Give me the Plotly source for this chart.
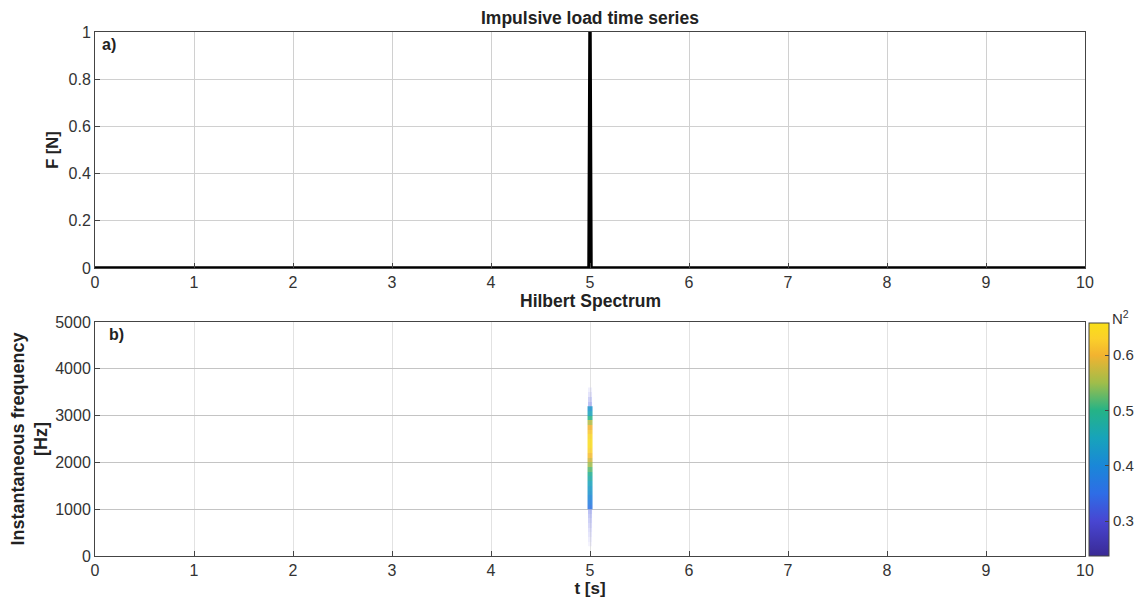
import plotly.graph_objects as go

# ---- data ----
t_load = [0, 4.99, 5.0, 5.01, 10]
F_load = [0, 0, 1, 0, 0]

# Hilbert spectrum column at t = 5 s (frequency bin edges, Hz)
hs_t_edges = [4.975, 5.025]
hs_freq_edges = [1000, 1100, 1200, 1300, 1400, 1500, 1600, 1700, 1800, 1900,
                 2000, 2100, 2200, 2300, 2400, 2500, 2600, 2700, 2800, 2900, 3000,
                 3100, 3200]
hs_energy = [0.36, 0.38, 0.40, 0.42, 0.43, 0.45, 0.47, 0.49, 0.52, 0.55,
             0.58, 0.61, 0.63, 0.65, 0.65, 0.64, 0.62, 0.60, 0.56, 0.50, 0.45,
             0.42]

# faint tails of the spectrum (low energy, drawn translucent)
tail_t_edges = [4.98, 5.02]
tail_freq_edges = [200, 300, 400, 500, 600, 700, 800, 900, 1000]
tail_level = [0.15, 0.25, 0.35, 0.45, 0.55, 0.65, 0.75, 0.85]
tail2_freq_edges = [3200, 3300, 3400, 3500, 3600]
tail2_level = [0.85, 0.65, 0.4, 0.2]

x_ticks = list(range(0, 11))
cb_ticks = [0.3, 0.4, 0.5, 0.6]

cscale = [
    [0.0, "#3a2a95"],
    [0.15, "#4846d2"],
    [0.268, "#2e6de6"],
    [0.387, "#1a87d8"],
    [0.506, "#17a3bb"],
    [0.625, "#25b386"],
    [0.743, "#a0bd4a"],
    [0.862, "#f2b330"],
    [0.933, "#fbd02a"],
    [1.0, "#f9df18"],
]
tail_scale = [[0, "rgba(190,185,245,0.05)"], [1, "rgba(150,160,235,0.8)"]]

FONT = "Liberation Sans, Arial, sans-serif"
TICKFONT = dict(family=FONT, size=16, color="#333")
fig = go.Figure()

fig.add_trace(go.Scatter(x=t_load, y=F_load, mode="lines",
                         line=dict(color="black", width=3.5),
                         xaxis="x", yaxis="y", showlegend=False))

fig.add_trace(go.Heatmap(x=tail_t_edges, y=tail_freq_edges,
                         z=[[v] for v in tail_level], colorscale=tail_scale,
                         zmin=0, zmax=1, showscale=False, xaxis="x2", yaxis="y2"))
fig.add_trace(go.Heatmap(x=tail_t_edges, y=tail2_freq_edges,
                         z=[[v] for v in tail2_level], colorscale=tail_scale,
                         zmin=0, zmax=1, showscale=False, xaxis="x2", yaxis="y2"))
fig.add_trace(go.Heatmap(x=hs_t_edges, y=hs_freq_edges,
                         z=[[v] for v in hs_energy], colorscale=cscale,
                         zmin=0.237, zmax=0.658, xaxis="x2", yaxis="y2", opacity=0.85,
                         colorbar=dict(x=1.004, xanchor="left", xpad=0, ypad=0,
                                       y=0.0, yanchor="bottom",
                                       len=0.445, lenmode="fraction", thickness=20,
                                       outlinecolor="#444", outlinewidth=1,
                                       tickvals=cb_ticks, ticks="inside", ticklen=4,
                                       tickcolor="#444",
                                       tickfont=dict(family=FONT, size=15, color="#333"))))

axis_common = dict(showline=True, linecolor="#444", linewidth=1, mirror=True,
                   ticks="inside", ticklen=5, tickcolor="#444",
                   tickfont=TICKFONT, zeroline=False, showgrid=True)

fig.update_layout(
    width=1134, height=590,
    margin=dict(l=87, r=57, t=24, b=42, autoexpand=False),
    paper_bgcolor="white", plot_bgcolor="white",
    xaxis=dict(domain=[0, 1], range=[0, 10], tickvals=x_ticks, anchor="y",
               gridcolor="#d0d0d0", **axis_common),
    yaxis=dict(domain=[0.5496, 1], range=[0, 1], dtick=0.2, anchor="x",
               gridcolor="#d0d0d0",
               title=dict(text="<b>F [N]</b>", standoff=5,
                          font=dict(family=FONT, size=16.5, color="#222")),
               **axis_common),
    xaxis2=dict(domain=[0, 1], range=[0, 10], tickvals=x_ticks, anchor="y2",
                gridcolor="#e2e2e2",
                title=dict(text="<b>t [s]</b>", standoff=0,
                           font=dict(family=FONT, size=17, color="#222")),
                **axis_common),
    yaxis2=dict(domain=[0, 0.4466], range=[0, 5000], dtick=1000, anchor="x2",
                gridcolor="#c4c4c4",
                title=dict(text="<b>Instantaneous frequency<br>[Hz]</b>", standoff=4,
                           font=dict(family=FONT, size=18, color="#222")),
                **axis_common),
    annotations=[
        dict(text="<b>Impulsive load time series</b>", xref="x domain", yref="y domain",
             x=0.5, y=1.0, yanchor="bottom", showarrow=False, yshift=2,
             font=dict(family=FONT, size=17.5, color="#222")),
        dict(text="<b>Hilbert Spectrum</b>", xref="x2 domain", yref="y2 domain",
             x=0.5, y=1.0, yanchor="bottom", showarrow=False, yshift=9,
             font=dict(family=FONT, size=17.5, color="#222")),
        dict(text="<b>a)</b>", xref="x domain", yref="y domain", x=0.005, y=0.99,
             xanchor="left", yanchor="top", showarrow=False,
             font=dict(family=FONT, size=16, color="#222")),
        dict(text="<b>b)</b>", xref="x2 domain", yref="y2 domain", x=0.012, y=0.99,
             xanchor="left", yanchor="top", showarrow=False,
             font=dict(family=FONT, size=16, color="#222")),
        dict(text="N<sup>2</sup>", xref="paper", yref="paper", x=1.025, y=0.455,
             xanchor="left", yanchor="middle", showarrow=False,
             font=dict(family=FONT, size=15, color="#333")),
    ],
)

fig.write_html("out.html")
